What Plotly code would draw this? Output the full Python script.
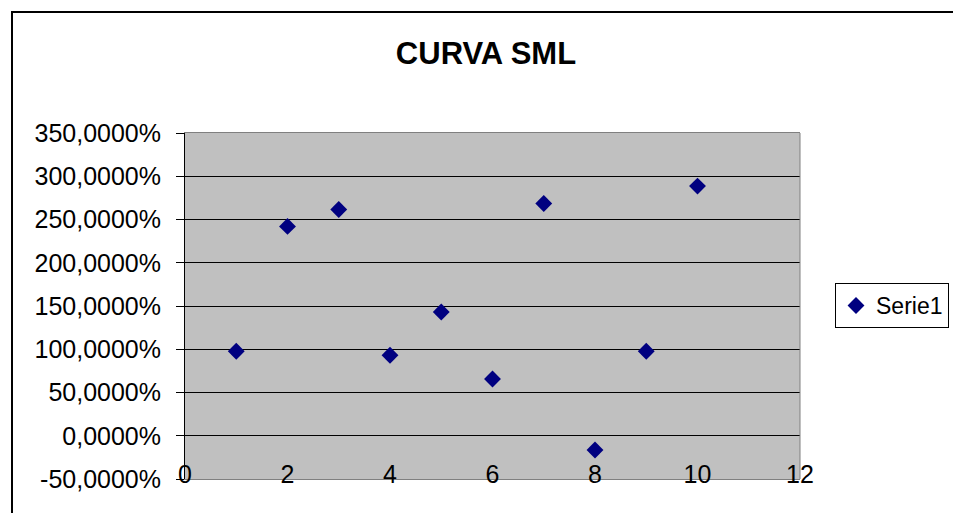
import plotly.graph_objects as go

# Data
x_vals = [1, 2, 3, 4, 5, 6, 7, 8, 9, 10]
y_vals = [0.977, 2.42, 2.616, 0.93, 1.43, 0.656, 2.685, -0.165, 0.977, 2.886]
series_name = "Serie1"
title_text = "CURVA SML"
y_tickvals = [-0.5, 0, 0.5, 1.0, 1.5, 2.0, 2.5, 3.0, 3.5]
y_ticktext = ["-50,0000%", "0,0000%", "50,0000%", "100,0000%", "150,0000%",
              "200,0000%", "250,0000%", "300,0000%", "350,0000%"]
x_tickvals = [0, 2, 4, 6, 8, 10, 12]

FONT = "Arial, 'Liberation Sans', sans-serif"
W, H = 953, 513
L, R, T, B = 185, 153, 133, 34
pw, ph = W - L - R, H - T - B

def px_x(p):
    return (p - L) / pw

def px_y(p):
    return (H - B - p) / ph

fig = go.Figure()
fig.add_trace(go.Scatter(
    x=x_vals, y=y_vals, mode="markers", name=series_name,
    marker=dict(symbol="diamond", size=13, color="#000080", line=dict(width=0)),
    showlegend=True,
))

fig.update_layout(
    width=W, height=H,
    margin=dict(l=L, r=R, t=T, b=B, autoexpand=False),
    paper_bgcolor="white",
    plot_bgcolor="#C0C0C0",
    font=dict(family=FONT, size=25, color="black"),
    title=dict(text="<b>" + title_text + "</b>", x=486 / W, xref="container", xanchor="center",
               y=1 - 53 / H, yref="container", yanchor="middle",
               font=dict(family=FONT, size=31, color="black")),
    xaxis=dict(range=[0, 12], tickvals=x_tickvals, showgrid=False, zeroline=False,
               showline=True, linecolor="#808080", linewidth=1, mirror=True,
               ticks="", ticklabelstandoff=-27,
               tickfont=dict(family=FONT, size=25, color="black")),
    xaxis2=dict(range=[0, 12], tickvals=x_tickvals, overlaying="x", anchor="free",
                position=0.125, side="bottom", showgrid=False, zeroline=False,
                showline=True, linecolor="black", linewidth=1,
                ticks="outside", ticklen=7, tickwidth=1, tickcolor="black",
                showticklabels=False),
    yaxis=dict(range=[-0.5, 3.5], tickvals=y_tickvals, ticktext=y_ticktext,
               showgrid=True, gridcolor="black", gridwidth=1, zeroline=False,
               showline=True, linecolor="black", linewidth=1,
               ticks="outside", ticklen=8, tickwidth=1, tickcolor="black",
               ticklabelstandoff=10,
               tickfont=dict(family=FONT, size=25, color="black")),
    legend=dict(x=px_x(835), y=px_y(283), xanchor="left", yanchor="top",
                bgcolor="white", bordercolor="black", borderwidth=1,
                itemwidth=30, font=dict(family=FONT, size=23, color="black")),
    shapes=[
        dict(type="rect", xref="paper", yref="paper",
             x0=px_x(12), y0=px_y(530), x1=px_x(970), y1=px_y(12),
             line=dict(color="black", width=2), fillcolor="rgba(0,0,0,0)", layer="above"),
        dict(type="line", xref="paper", yref="paper", x0=1, x1=1, y0=0, y1=1,
             line=dict(color="#808080", width=1), layer="above"),
    ],
)

fig.write_html("out.html", config={"displayModeBar": False},
               post_script="document.body.style.margin='0';document.body.style.overflow='hidden';")
